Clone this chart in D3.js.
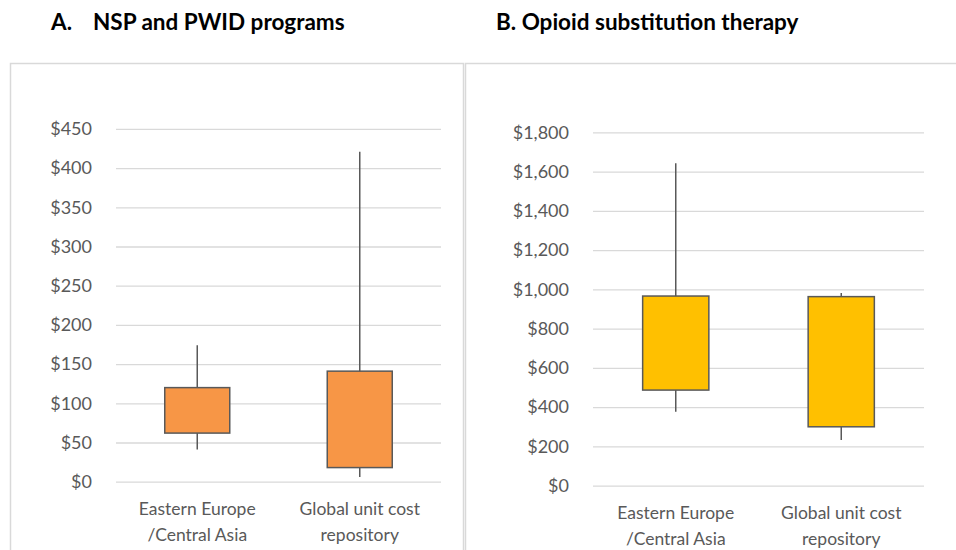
<!DOCTYPE html>
<html>
<head>
<meta charset="utf-8">
<script src="https://cdn.jsdelivr.net/npm/d3@7"></script>
<style>
  html, body { margin: 0; padding: 0; background: #fff; }
  svg { display: block; font-family: Lato, "Open Sans", sans-serif; }
</style>
</head>
<body>
<svg id="chart" width="956" height="550"></svg>
<script>
// ---- data ----
const categories = [["Eastern Europe", "/Central Asia"], ["Global unit cost", "repository"]];

const nspMin = [41, 6];
const nspQ1  = [62, 18];
const nspQ3  = [120, 141];
const nspMax = [174, 421];
const nspTicks = [0, 50, 100, 150, 200, 250, 300, 350, 400, 450];

const ostMin = [377, 233];
const ostQ1  = [487, 300];
const ostQ3  = [966, 963];
const ostMax = [1642, 981];
const ostTicks = [0, 200, 400, 600, 800, 1000, 1200, 1400, 1600, 1800];

const titleA = ["A.", "NSP and PWID programs"];
const titleB = "B. Opioid substitution therapy";

// ---- drawing ----
const svg = d3.select("#chart");
const fmt = d3.format("$,");

// panel frames
svg.append("rect").attr("x", 10.5).attr("y", 63.5).attr("width", 453).attr("height", 520)
  .attr("fill", "none").attr("stroke", "#d9d9d9").attr("stroke-width", 1.5);
svg.append("rect").attr("x", 465.5).attr("y", 63.5).attr("width", 520).attr("height", 520)
  .attr("fill", "none").attr("stroke", "#d9d9d9").attr("stroke-width", 1.5);

// titles
const tSize = 22.5;
svg.append("text").attr("x", 51).attr("y", 30).attr("font-weight", "bold").attr("font-size", tSize)
  .attr("fill", "#000").text(titleA[0]);
svg.append("text").attr("x", 93).attr("y", 30).attr("font-weight", "bold").attr("font-size", tSize)
  .attr("fill", "#000").text(titleA[1]);
svg.append("text").attr("x", 496).attr("y", 30).attr("font-weight", "bold").attr("font-size", tSize)
  .attr("fill", "#000").text(titleB);

function panel(opts) {
  const { x0, x1, y0, y1, domainMax, ticks, mins, q1s, q3s, maxs, fill } = opts;
  const x = d3.scaleBand().domain(d3.range(categories.length)).range([x0, x1]).paddingInner(0).paddingOuter(0);
  const y = d3.scaleLinear().domain([0, domainMax]).range([y0, y1]);
  const g = svg.append("g");

  const axis = d3.axisLeft(y).tickValues(ticks).tickFormat(fmt)
    .tickSizeInner(-(x1 - x0)).tickSizeOuter(0).tickPadding(24);
  const ag = g.append("g").attr("transform", `translate(${x0},0)`).call(axis);
  ag.select(".domain").remove();
  ag.selectAll(".tick line").attr("stroke", "#d9d9d9").attr("stroke-width", 1.3);
  ag.selectAll(".tick text").attr("fill", "#595959").attr("font-size", 18)
    .attr("font-family", "Lato, 'Open Sans', sans-serif");

  const bw = x.bandwidth() * 0.4;
  const idx = d3.range(categories.length);

  // whiskers
  g.selectAll(".whisker").data(idx).join("line")
    .attr("x1", i => x(i) + x.bandwidth() / 2).attr("x2", i => x(i) + x.bandwidth() / 2)
    .attr("y1", i => y(mins[i])).attr("y2", i => y(maxs[i]))
    .attr("stroke", "#595959").attr("stroke-width", 1.5);

  // boxes
  g.selectAll(".box").data(idx).join("rect")
    .attr("x", i => x(i) + x.bandwidth() / 2 - bw / 2)
    .attr("width", bw)
    .attr("y", i => y(q3s[i]))
    .attr("height", i => y(q1s[i]) - y(q3s[i]))
    .attr("fill", fill).attr("stroke", "#595959").attr("stroke-width", 1.5);

  // category labels
  const lab = g.selectAll(".cat").data(idx).join("text")
    .attr("text-anchor", "middle").attr("fill", "#595959").attr("font-size", 17.5)
    .attr("x", i => x(i) + x.bandwidth() / 2)
    .attr("y", y0 + 33);
  lab.selectAll("tspan").data(i => categories[i]).join("tspan")
    .attr("x", function () { return d3.select(this.parentNode).attr("x"); })
    .attr("dy", (d, j) => j === 0 ? 0 : 26)
    .text(d => d);
}

panel({ x0: 116, x1: 441, y0: 481.7, y1: 128.9, domainMax: 450, ticks: nspTicks,
        mins: nspMin, q1s: nspQ1, q3s: nspQ3, maxs: nspMax, fill: "#F79646" });
panel({ x0: 593, x1: 924, y0: 485.7, y1: 132.3, domainMax: 1800, ticks: ostTicks,
        mins: ostMin, q1s: ostQ1, q3s: ostQ3, maxs: ostMax, fill: "#FFC000" });
</script>
</body>
</html>
